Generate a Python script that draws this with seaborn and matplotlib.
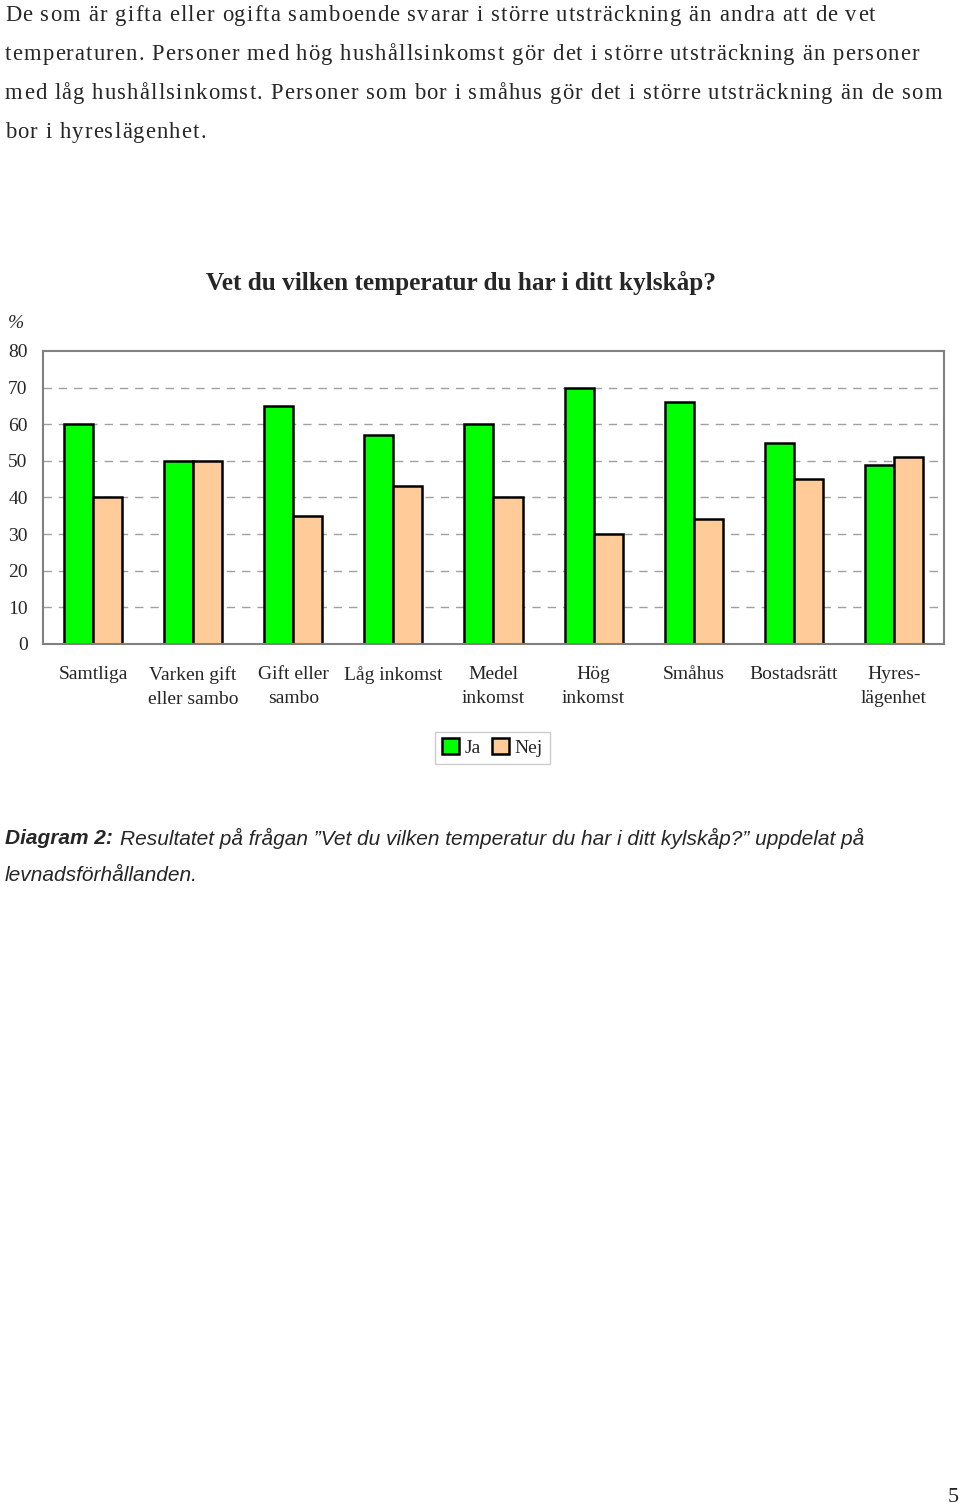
import pandas as pd
import numpy as np
import matplotlib
matplotlib.use('Agg')
import matplotlib.pyplot as plt
import seaborn as sns

# Data
categories = ['Samtliga', 'Varken gift\neller sambo', 'Gift eller\nsambo', 'Låg inkomst',
              'Medel\ninkomst', 'Hög\ninkomst', 'Småhus', 'Bostadsrätt', 'Hyres-\nlägenhet']
ja_values = [60, 50, 65, 57, 60, 70, 66, 55, 49]
nej_values = [40, 50, 35, 43, 40, 30, 34, 45, 51]
series_names = ['Ja', 'Nej']
y_ticks = [0, 10, 20, 30, 40, 50, 60, 70, 80]

colors_dict = {'Ja': '#00FF00', 'Nej': '#FFCC99'}

df = pd.DataFrame({
    'Grupp': categories * 2,
    'Svar': ['Ja'] * len(categories) + ['Nej'] * len(categories),
    'Procent': ja_values + nej_values,
})

sns.set_style('white')
plt.rcParams['font.family'] = ['Liberation Serif', 'DejaVu Serif']

fig = plt.figure(figsize=(9.6, 15.07), dpi=100)
ax = fig.add_axes([0.0448, 0.5727, 0.9385, 0.1944])

sns.barplot(data=df, x='Grupp', y='Procent', hue='Svar', order=categories,
            hue_order=series_names, palette=colors_dict, width=0.58,
            edgecolor='black', linewidth=1.8, saturation=1, errorbar=None, ax=ax)

ax.set_xlim(-0.5, len(categories) - 0.5)
ax.set_ylim(0, 80)
ax.set_yticks(y_ticks)
ax.set_yticklabels([str(t) for t in y_ticks], fontsize=14)
ax.set_xticks(range(len(categories)))
ax.set_xticklabels(categories, fontsize=14, linespacing=1.55)
ax.tick_params(axis='x', length=0, pad=16)
ax.set_xticks(np.arange(-0.5, len(categories)), minor=True)
ax.tick_params(axis='x', which='minor', length=5, color='#808080', direction='out')
ax.tick_params(axis='y', length=6, color='#808080', direction='out', pad=5)
ax.set_xlabel('')
ax.set_ylabel('')

# streckade stödlinjer
for t in y_ticks[1:-1]:
    ax.axhline(t, color='#a0a0a0', linestyle=(0, (6, 5)), linewidth=1, zorder=0)

for s in ax.spines.values():
    s.set_color('#808080')
    s.set_linewidth(1.5)

handles, labels = ax.get_legend_handles_labels()
ax.get_legend().remove()
leg = fig.legend(handles, labels, loc='upper center', bbox_to_anchor=(0.513, 0.521),
                 ncol=2, frameon=True, fancybox=False, edgecolor='#c0c0c0',
                 fontsize=14, handlelength=0.85, handleheight=0.85, handletextpad=0.3,
                 columnspacing=0.6, borderpad=0.35)

fig.text(461 / 960, 1 - 283 / 1507, 'Vet du vilken temperatur du har i ditt kylskåp?',
         ha='center', va='center', fontsize=18.2, fontweight='bold')
fig.text(16 / 960, 1 - 323 / 1507, '%', ha='center', va='center', fontsize=14, style='italic')

# brödtext ovanför diagrammet, med spärrad text
paragraph = [
    'De som är gifta eller ogifta samboende svarar i större utsträckning än andra att de vet',
    'temperaturen. Personer med hög hushållsinkomst gör det i större utsträckning än personer',
    'med låg hushållsinkomst. Personer som bor i småhus gör det i större utsträckning än de som',
    'bor i hyreslägenhet.',
]
renderer = fig.canvas.get_renderer()
para_size = 16.3
letter_gap = 1.15  # px


def char_width(ch):
    # bredd via skillnad mellan 'x'+ch+'x' och 'xx' så att mellanslag fungerar
    t1 = fig.text(0, 0, 'x' + ch + 'x', fontsize=para_size)
    t2 = fig.text(0, 0, 'xx', fontsize=para_size)
    w = t1.get_window_extent(renderer).width - t2.get_window_extent(renderer).width
    t1.remove()
    t2.remove()
    return w


widths = {}
for i, line in enumerate(paragraph):
    x = 5.0
    y = 1 - (21 + 39 * i) / 1507
    for ch in line:
        if ch not in widths:
            widths[ch] = char_width(ch)
        if ch != ' ':
            fig.text(x / 960, y, ch, ha='left', va='baseline', fontsize=para_size)
        x += widths[ch] + letter_gap

# figurtext
fig.text(5 / 960, 1 - 838 / 1507, 'Diagram 2:', ha='left', va='center', fontsize=15,
         family='Liberation Sans', style='italic', fontweight='bold')
fig.text(120 / 960, 1 - 838 / 1507,
         'Resultatet på frågan ”Vet du vilken temperatur du har i ditt kylskåp?” uppdelat på',
         ha='left', va='center', fontsize=15, family='Liberation Sans', style='italic')
fig.text(5 / 960, 1 - 875 / 1507, 'levnadsförhållanden.', ha='left', va='center',
         fontsize=15, family='Liberation Sans', style='italic')

fig.text(953 / 960, 1 - 1497 / 1507, '5', ha='center', va='center', fontsize=16)

plt.savefig('out.png', dpi=100)
